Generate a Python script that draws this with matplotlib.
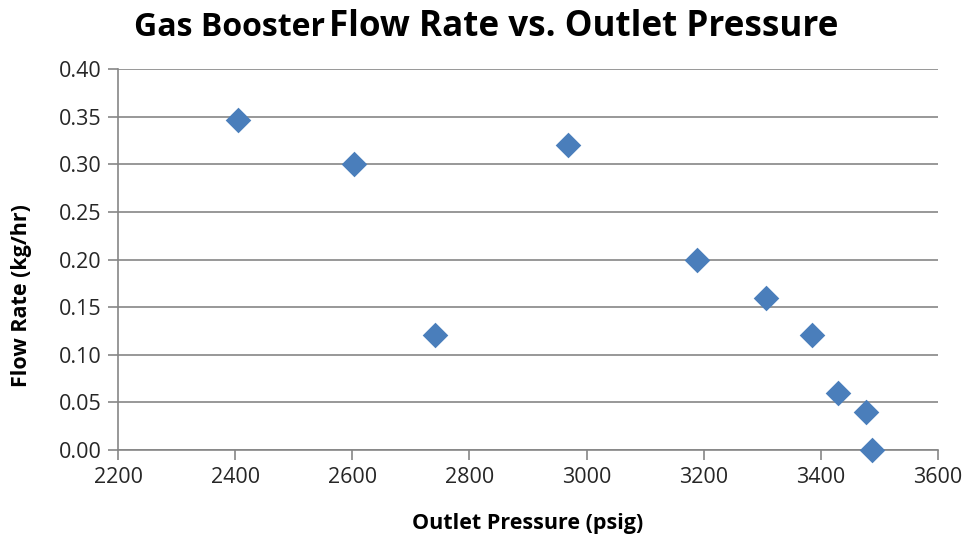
import matplotlib
matplotlib.use("Agg")
import matplotlib.pyplot as plt

# outlet pressure (psig) and flow rate (kg/hr)
pressure = [2405, 2603, 2741, 2968, 3189, 3306, 3385, 3429, 3477, 3487]
flow = [0.347, 0.300, 0.121, 0.320, 0.200, 0.160, 0.121, 0.060, 0.040, 0.000]

xticks = [2200, 2400, 2600, 2800, 3000, 3200, 3400, 3600]
yticks = [0.00, 0.05, 0.10, 0.15, 0.20, 0.25, 0.30, 0.35, 0.40]

plt.rcParams['font.family'] = ['Open Sans', 'DejaVu Sans']
axisGray = '#868686'

fig = plt.figure(figsize=(9.69, 5.38), dpi=100)
ax = fig.add_axes([0.1218, 0.1636, 0.8462, 0.7081])

ax.scatter(pressure, flow, marker='D', s=170, color='#4a7ebb', zorder=3,
           linewidths=0, clip_on=False)

ax.set_xlim(2200, 3600)
ax.set_ylim(0, 0.40)
ax.set_xticks(xticks)
ax.set_yticks(yticks)
ax.set_yticklabels(["%.2f" % v for v in yticks])
ax.grid(True, axis='y', color=axisGray, linewidth=1.2)
ax.set_axisbelow(True)

for side in ['top', 'right']:
    ax.spines[side].set_visible(False)
for side in ['left', 'bottom']:
    ax.spines[side].set_color(axisGray)
    ax.spines[side].set_linewidth(1.2)
ax.tick_params(axis='both', colors=axisGray, length=7, width=1.2, labelsize=15.5,
               labelcolor='#262626', pad=5)

ax.set_xlabel("Outlet Pressure (psig)", fontsize=15.5, fontweight='bold')
ax.xaxis.set_label_coords(0.5, -0.165)
ax.set_ylabel("Flow Rate (kg/hr)", fontsize=15.5, fontweight='bold', va='center')
ax.yaxis.set_label_coords(-0.118, 0.405)

# title is two sizes, like the original
fig.text(0.3354, 0.933, "Gas Booster", fontsize=23, fontweight='bold',
         ha='right', va='baseline')
fig.text(0.8648, 0.933, "Flow Rate vs. Outlet Pressure", fontsize=25.2, fontweight='bold',
         ha='right', va='baseline')

fig.savefig("out.png", dpi=100)
